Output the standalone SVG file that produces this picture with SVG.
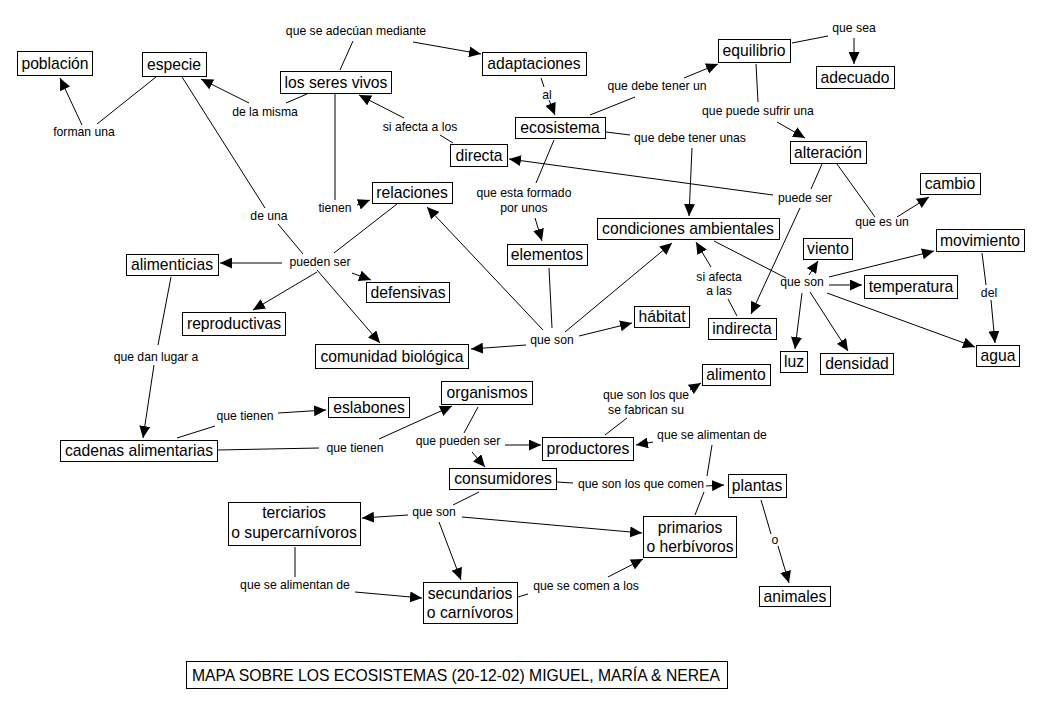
<svg xmlns="http://www.w3.org/2000/svg" width="1039" height="707" viewBox="0 0 1039 707">
<defs>
<marker id="ah" markerUnits="userSpaceOnUse" markerWidth="13" markerHeight="11" refX="12" refY="5.5" orient="auto">
<path d="M0,0 L12,5.5 L0,11 z" fill="#000"/>
</marker>
<style>
.c rect{fill:#fff;stroke:#000;stroke-width:1}
.c text{font-family:"Liberation Sans",Arial,sans-serif;font-size:15.7px;fill:#000;text-anchor:middle}
.l text{font-family:"Liberation Sans",Arial,sans-serif;font-size:12.2px;fill:#000;text-anchor:middle}
#conn line{stroke:#000;stroke-width:1;fill:none}
#conn line.a{marker-end:url(#ah)}
</style>
</defs>
<rect width="1039" height="707" fill="#fff"/>

<g id="conn">
<line x1="156" y1="77" x2="97" y2="124"/>
<line class="a" x1="82" y1="125" x2="60" y2="78"/>
<line x1="307" y1="94" x2="286" y2="103"/>
<line class="a" x1="249" y1="103" x2="201" y2="79"/>
<line x1="182" y1="77" x2="265" y2="208"/>
<line x1="278" y1="224" x2="303" y2="254"/>
<line class="a" x1="317" y1="270" x2="380" y2="343"/>
<line class="a" x1="282" y1="263" x2="220" y2="263"/>
<line class="a" x1="317" y1="272" x2="253" y2="310"/>
<line class="a" x1="352" y1="273" x2="371" y2="280"/>
<line x1="397" y1="204" x2="334" y2="253"/>
<line x1="335" y1="94" x2="335" y2="200"/>
<line class="a" x1="357" y1="205" x2="370" y2="200"/>
<line x1="340" y1="70" x2="353" y2="41"/>
<line class="a" x1="413" y1="42" x2="481" y2="54"/>
<line x1="541" y1="78" x2="544" y2="87"/>
<line class="a" x1="549" y1="100" x2="555" y2="115"/>
<line x1="453" y1="143" x2="440" y2="135"/>
<line class="a" x1="404" y1="118" x2="359" y2="95"/>
<line x1="590" y1="115" x2="635" y2="97"/>
<line class="a" x1="684" y1="78" x2="718" y2="64"/>
<line x1="606" y1="132" x2="630" y2="135"/>
<line class="a" x1="692" y1="148" x2="689" y2="216"/>
<line x1="554" y1="140" x2="536" y2="183"/>
<line class="a" x1="535" y1="218" x2="542" y2="241"/>
<line x1="792" y1="43" x2="828" y2="36"/>
<line class="a" x1="854" y1="38" x2="854" y2="64"/>
<line x1="756" y1="64" x2="758" y2="102"/>
<line class="a" x1="777" y1="122" x2="805" y2="138"/>
<line x1="822" y1="164" x2="811" y2="189"/>
<line class="a" x1="773" y1="195" x2="509" y2="159"/>
<line class="a" x1="800" y1="208" x2="751" y2="314"/>
<line x1="837" y1="164" x2="875" y2="217"/>
<line class="a" x1="897" y1="217" x2="929" y2="197"/>
<line x1="549" y1="268" x2="552" y2="328"/>
<line class="a" x1="543" y1="330" x2="427" y2="207"/>
<line class="a" x1="565" y1="332" x2="672" y2="243"/>
<line class="a" x1="579" y1="336" x2="632" y2="323"/>
<line class="a" x1="526" y1="345" x2="471" y2="349"/>
<line x1="714" y1="241" x2="786" y2="278"/>
<line class="a" x1="809" y1="275" x2="818" y2="261"/>
<line class="a" x1="829" y1="285" x2="862" y2="285"/>
<line class="a" x1="829" y1="277" x2="934" y2="251"/>
<line class="a" x1="827" y1="293" x2="975" y2="347"/>
<line class="a" x1="802" y1="293" x2="795" y2="349"/>
<line class="a" x1="810" y1="292" x2="848" y2="351"/>
<line x1="737" y1="316" x2="728" y2="299"/>
<line class="a" x1="711" y1="267" x2="696" y2="242"/>
<line x1="982" y1="253" x2="986" y2="285"/>
<line class="a" x1="991" y1="300" x2="995" y2="343"/>
<line x1="171" y1="277" x2="158" y2="345"/>
<line class="a" x1="154" y1="365" x2="143" y2="438"/>
<line x1="177" y1="438" x2="215" y2="426"/>
<line class="a" x1="278" y1="413" x2="326" y2="410"/>
<line x1="218" y1="450" x2="319" y2="448"/>
<line class="a" x1="379" y1="439" x2="452" y2="406"/>
<line x1="478" y1="407" x2="464" y2="433"/>
<line class="a" x1="505" y1="445" x2="541" y2="445"/>
<line class="a" x1="472" y1="452" x2="485" y2="467"/>
<line x1="605" y1="435" x2="627" y2="418"/>
<line class="a" x1="690" y1="390" x2="701" y2="383"/>
<line x1="712" y1="445" x2="707" y2="476"/>
<line x1="704" y1="492" x2="695" y2="515"/>
<line class="a" x1="653" y1="442" x2="636" y2="445"/>
<line x1="557" y1="482" x2="573" y2="483"/>
<line class="a" x1="706" y1="486" x2="724" y2="485"/>
<line x1="479" y1="492" x2="453" y2="505"/>
<line class="a" x1="408" y1="515" x2="362" y2="518"/>
<line class="a" x1="462" y1="517" x2="642" y2="533"/>
<line class="a" x1="439" y1="522" x2="461" y2="580"/>
<line x1="295" y1="547" x2="295" y2="577"/>
<line class="a" x1="355" y1="592" x2="422" y2="598"/>
<line x1="518" y1="597" x2="528" y2="594"/>
<line class="a" x1="608" y1="577" x2="643" y2="559"/>
<line x1="761" y1="500" x2="771" y2="534"/>
<line class="a" x1="778" y1="546" x2="789" y2="583"/>
</g>

<g class="l">
<g id="l1"><text x="356" y="35">que se adecúan mediante</text></g>
<g id="l2"><text x="84" y="136">forman una</text></g>
<g id="l3"><text x="265" y="116">de la misma</text></g>
<g id="l4"><text x="420" y="131">si afecta a los</text></g>
<g id="l5"><text x="547" y="99">al</text></g>
<g id="l6"><text x="657" y="90">que debe tener un</text></g>
<g id="l7"><text x="690" y="142">que debe tener unas</text></g>
<g id="l8"><text x="854" y="32">que sea</text></g>
<g id="l9"><text x="758" y="115">que puede sufrir una</text></g>
<g id="l10"><text x="805" y="202">puede ser</text></g>
<g id="l11"><text x="882" y="226">que es un</text></g>
<g id="l12"><text x="335" y="212">tienen</text></g>
<g id="l13"><text x="269" y="220">de una</text></g>
<g id="l14"><text x="320" y="266">pueden ser</text></g>
<g id="l15"><text x="524" y="197">que esta formado</text><text x="524" y="212">por unos</text></g>
<g id="l16"><text x="552" y="344">que son</text></g>
<g id="l17"><text x="719" y="281">si afecta</text><text x="719" y="295">a las</text></g>
<g id="l18"><text x="802" y="286">que son</text></g>
<g id="l19"><text x="989" y="297">del</text></g>
<g id="l20"><text x="156" y="361">que dan lugar a</text></g>
<g id="l21"><text x="245" y="420">que tienen</text></g>
<g id="l22"><text x="355" y="452">que tienen</text></g>
<g id="l23"><text x="458" y="445">que pueden ser</text></g>
<g id="l24"><text x="646" y="399">que son los que</text><text x="646" y="414">se fabrican su</text></g>
<g id="l25"><text x="712" y="439">que se alimentan de</text></g>
<g id="l26"><text x="641" y="488">que son los que comen</text></g>
<g id="l27"><text x="434" y="516">que son</text></g>
<g id="l28"><text x="775" y="544">o</text></g>
<g id="l29"><text x="586" y="590">que se comen a los</text></g>
<g id="l30"><text x="295" y="589">que se alimentan de</text></g>
</g>

<g class="c">
<g id="poblacion"><rect x="17.5" y="51.5" width="75" height="24"/><text x="55" y="68.5">población</text></g>
<g id="especie"><rect x="142.5" y="52.5" width="64" height="24"/><text x="174" y="69.5">especie</text></g>
<g id="seres"><rect x="280.5" y="71.5" width="111" height="22"/><text x="336" y="87.5">los seres vivos</text></g>
<g id="adaptaciones"><rect x="482.5" y="52.5" width="104" height="23"/><text x="534" y="69">adaptaciones</text></g>
<g id="ecosistema"><rect x="515.5" y="117.5" width="90" height="21"/><text x="560" y="133">ecosistema</text></g>
<g id="directa"><rect x="450.5" y="144.5" width="57" height="22"/><text x="479" y="160.5">directa</text></g>
<g id="relaciones"><rect x="372.5" y="182.5" width="80" height="21"/><text x="412" y="198">relaciones</text></g>
<g id="equilibrio"><rect x="718.5" y="39.5" width="72" height="23"/><text x="754" y="56">equilibrio</text></g>
<g id="adecuado"><rect x="816.5" y="66.5" width="78" height="22"/><text x="855" y="82.5">adecuado</text></g>
<g id="alteracion"><rect x="790.5" y="141.5" width="76" height="22"/><text x="828" y="157.5">alteración</text></g>
<g id="cambio"><rect x="920.5" y="173.5" width="60" height="21"/><text x="950" y="189">cambio</text></g>
<g id="condiciones"><rect x="597.5" y="218.5" width="182" height="21"/><text x="688" y="234">condiciones ambientales</text></g>
<g id="elementos"><rect x="507.5" y="244.5" width="80" height="21"/><text x="547" y="260">elementos</text></g>
<g id="habitat"><rect x="634.5" y="306.5" width="55" height="21"/><text x="662" y="322">hábitat</text></g>
<g id="indirecta"><rect x="708.5" y="318.5" width="68" height="21"/><text x="742" y="334">indirecta</text></g>
<g id="viento"><rect x="803.5" y="238.5" width="49" height="21"/><text x="828" y="254">viento</text></g>
<g id="movimiento"><rect x="936.5" y="229.5" width="88" height="22"/><text x="980" y="245.5">movimiento</text></g>
<g id="temperatura"><rect x="864.5" y="275.5" width="93" height="23"/><text x="911" y="292">temperatura</text></g>
<g id="luz"><rect x="780.5" y="351.5" width="27" height="21"/><text x="794" y="367">luz</text></g>
<g id="densidad"><rect x="820.5" y="353.5" width="73" height="21"/><text x="857" y="369">densidad</text></g>
<g id="agua"><rect x="976.5" y="345.5" width="43" height="21"/><text x="998" y="361">agua</text></g>
<g id="alimento"><rect x="702.5" y="364.5" width="68" height="21"/><text x="736" y="380">alimento</text></g>
<g id="alimenticias"><rect x="126.5" y="254.5" width="92" height="21"/><text x="172" y="270">alimenticias</text></g>
<g id="reproductivas"><rect x="182.5" y="312.5" width="103" height="23"/><text x="234" y="329">reproductivas</text></g>
<g id="defensivas"><rect x="366.5" y="282.5" width="83" height="20"/><text x="408" y="297.5">defensivas</text></g>
<g id="comunidad"><rect x="315.5" y="344.5" width="153" height="24"/><text x="392" y="361.5">comunidad biológica</text></g>
<g id="cadenas"><rect x="60.5" y="440.5" width="157" height="21"/><text x="139" y="456">cadenas alimentarias</text></g>
<g id="eslabones"><rect x="328.5" y="397.5" width="81" height="20"/><text x="369" y="412.5">eslabones</text></g>
<g id="organismos"><rect x="441.5" y="381.5" width="91" height="23"/><text x="487" y="398">organismos</text></g>
<g id="productores"><rect x="542.5" y="437.5" width="91" height="23"/><text x="588" y="454">productores</text></g>
<g id="consumidores"><rect x="449.5" y="468.5" width="107" height="21"/><text x="503" y="484">consumidores</text></g>
<g id="plantas"><rect x="728.5" y="474.5" width="58" height="23"/><text x="757" y="491">plantas</text></g>
<g id="primarios"><rect x="643.5" y="516.5" width="93" height="41"/><text x="690" y="533">primarios</text><text x="690" y="552">o herbívoros</text></g>
<g id="secundarios"><rect x="423.5" y="582.5" width="94" height="41"/><text x="470" y="598.5">secundarios</text><text x="470" y="618">o carnívoros</text></g>
<g id="animales"><rect x="759.5" y="586.5" width="71" height="20"/><text x="795" y="601.5">animales</text></g>
<g id="terciarios"><rect x="228.5" y="502.5" width="132" height="43"/><text x="294" y="518">terciarios</text><text x="294" y="538">o supercarnívoros</text></g>
<g id="titulo"><rect x="186.5" y="661.5" width="541" height="27"/><text x="456" y="680.5">MAPA SOBRE LOS ECOSISTEMAS (20-12-02) MIGUEL, MARÍA &amp; NEREA</text></g>
</g>
</svg>
